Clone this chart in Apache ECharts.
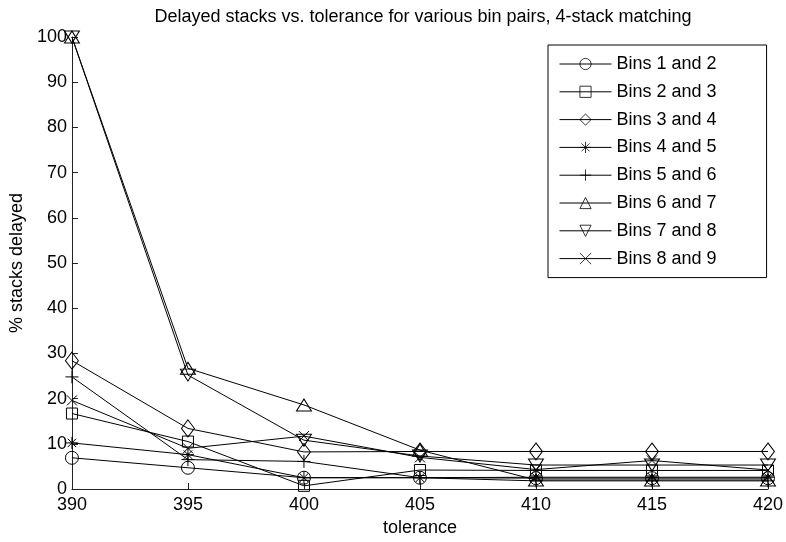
<!DOCTYPE html>
<html style="height: 100%">
<head>
    <meta charset="utf-8">
</head>
<body style="height: 100%; margin: 0; background: #fff">
<div id="container" style="width: 786px; height: 542px"></div>
<script src="https://cdn.jsdelivr.net/npm/echarts@6/dist/echarts.min.js"></script>
<script type="text/javascript">
    var dom = document.getElementById("container");
    var myChart = echarts.init(dom);

    // tolerance values along x
    const tolerance = [390, 395, 400, 405, 410, 415, 420];

    // % stacks delayed
    const bins12 = [6.9, 4.7, 2.5, 2.5, 2.4, 2.4, 2.4];
    const bins23 = [16.7, 10.5, 0.7, 4.2, 4.1, 4.1, 4.1];
    const bins34 = [28.4, 13.4, 8.2, 8.3, 8.3, 8.3, 8.3];
    const bins45 = [10.2, 7.6, 2.5, 2.5, 2.6, 2.6, 2.6];
    const bins56 = [24.8, 6.5, 6.1, 2.5, 1.8, 1.8, 1.8];
    const bins67 = [100, 26.7, 18.6, 8.6, 2.0, 2.0, 2.0];
    const bins78 = [100, 25.2, 10.8, 7.3, 5.3, 5.3, 5.3];
    const bins89 = [19.6, 9.0, 11.7, 7.0, 4.3, 6.3, 4.2];

    const names = ['Bins 1 and 2', 'Bins 2 and 3', 'Bins 3 and 4', 'Bins 4 and 5',
        'Bins 5 and 6', 'Bins 6 and 7', 'Bins 7 and 8', 'Bins 8 and 9'];
    const allData = [bins12, bins23, bins34, bins45, bins56, bins67, bins78, bins89];

    const symbols = [
        {symbol: 'circle', size: 13},
        {symbol: 'rect', size: 11},
        {symbol: 'diamond', size: [13, 17]},
        {symbol: 'path://M0,6L12,6M6,0L6,12M1.8,1.8L10.2,10.2M10.2,1.8L1.8,10.2', size: 12},
        {symbol: 'path://M0,6L12,6M6,0L6,12', size: 13},
        {symbol: 'triangle', size: [15, 12]},
        {symbol: 'triangle', size: [15, 12], rotate: 180},
        {symbol: 'path://M0,0L10,10M10,0L0,10', size: 10}
    ];

    const font = "'Liberation Sans', Arial, Helvetica, sans-serif";

    const series = names.map(function (name, i) {
        return {
            name: name,
            type: 'line',
            data: tolerance.map(function (t, j) { return [t, allData[i][j]]; }),
            symbol: symbols[i].symbol,
            symbolSize: symbols[i].size,
            symbolRotate: symbols[i].rotate || 0,
            showAllSymbol: true,
            lineStyle: {color: '#000', width: 1},
            itemStyle: {color: 'rgba(0,0,0,0)', borderColor: '#000', borderWidth: 1},
            emphasis: {disabled: true}
        };
    });

    var option = {
        animation: false,
        backgroundColor: '#fff',
        title: {
            text: 'Delayed stacks vs. tolerance for various bin pairs, 4-stack matching',
            left: 418,
            top: 3,
            textAlign: 'center',
            textStyle: {fontFamily: font, fontSize: 18, fontWeight: 'normal', color: '#000'}
        },
        legend: {
            orient: 'vertical',
            left: 548,
            top: 45,
            padding: [10, 50, 10, 11],
            itemWidth: 52,
            itemHeight: 14,
            itemGap: 9.8,
            borderColor: '#000',
            borderWidth: 1,
            backgroundColor: '#fff',
            lineStyle: {width: 1, color: '#000'},
            itemStyle: {borderWidth: 0.8, borderColor: '#000', color: 'rgba(0,0,0,0)'},
            textStyle: {fontFamily: font, fontSize: 18, color: '#000'},
            data: names
        },
        grid: {left: 68, right: 18, top: 37, bottom: 52, containLabel: false},
        xAxis: {
            type: 'value',
            min: 390,
            max: 420,
            interval: 5,
            name: 'tolerance',
            nameLocation: 'middle',
            nameGap: 30,
            nameTextStyle: {fontFamily: font, fontSize: 18, color: '#000'},
            axisLine: {lineStyle: {color: '#222', width: 1}},
            axisTick: {inside: true, length: 6, lineStyle: {color: '#222'}},
            axisLabel: {fontFamily: font, fontSize: 18, color: '#000', margin: 7},
            splitLine: {show: false}
        },
        yAxis: {
            type: 'value',
            min: 0,
            max: 100,
            interval: 10,
            name: '% stacks delayed',
            nameLocation: 'middle',
            nameGap: 44,
            nameTextStyle: {fontFamily: font, fontSize: 18, color: '#000'},
            axisLine: {show: true, lineStyle: {color: '#222', width: 1}},
            axisTick: {show: true, inside: true, length: 6, lineStyle: {color: '#222'}},
            axisLabel: {fontFamily: font, fontSize: 18, color: '#000', margin: 5},
            splitLine: {show: false}
        },
        series: series
    };

    if (option && typeof option === 'object') {
        myChart.setOption(option);
    }
</script>
</body>
</html>
